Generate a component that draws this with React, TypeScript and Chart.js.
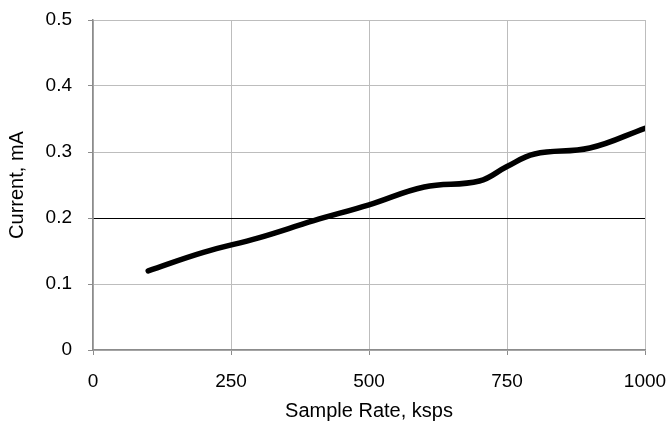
import React, { useEffect, useRef } from "react";
import { Chart, registerables } from "chart.js";

Chart.register(...registerables);

const sampleRates = [100, 200, 300, 400, 500, 600, 700, 750, 800, 900, 1000];
const currents = [0.12, 0.148, 0.17, 0.196, 0.22, 0.247, 0.256, 0.278, 0.297, 0.306, 0.336];
const xTicks = [0, 250, 500, 750, 1000];
const yTicks = [0, 0.1, 0.2, 0.3, 0.4, 0.5];

const FONT = "'Liberation Sans', Arial, sans-serif";

export default function App() {
  const ref = useRef<HTMLCanvasElement | null>(null);

  useEffect(() => {
    document.body.style.margin = "0";
    const canvas = ref.current;
    if (!canvas) return;
    const chart = new Chart(canvas, {
      type: "line",
      data: {
        datasets: [
          {
            data: sampleRates.map((x, i) => ({ x, y: currents[i] })),
            borderColor: "#000",
            borderWidth: 5.5,
            borderCapStyle: "round",
            borderJoinStyle: "round",
            pointRadius: 0,
            tension: 0.4,
            fill: false,
          },
        ],
      },
      options: {
        animation: false,
        responsive: false,
        maintainAspectRatio: false,
        layout: { padding: { top: 20, right: 25, left: 0, bottom: 0 } },
        plugins: { legend: { display: false }, tooltip: { enabled: false } },
        scales: {
          x: {
            type: "linear",
            min: 0,
            max: 1000,
            afterBuildTicks: (s: any) => {
              s.ticks = xTicks.map((v) => ({ value: v }));
            },
            afterFit: (s: any) => {
              s.height = 72;
              s.paddingLeft = 0;
              s.paddingRight = 0;
              s.paddingTop = 0;
              s.paddingBottom = 0;
            },
            grid: {
              color: "#bdbdbd",
              lineWidth: 1,
              tickLength: 5,
              tickColor: "#8c8c8c",
            },
            border: { color: "#8c8c8c", width: 1.5 },
            ticks: {
              color: "#000",
              font: { family: FONT, size: 19 },
              padding: 15,
              maxRotation: 0,
              callback: (v: any) => String(v),
            },
            title: {
              display: true,
              text: "Sample Rate, ksps",
              color: "#000",
              font: { family: FONT, size: 20, lineHeight: 1 },
              padding: { top: 0, bottom: 1 },
            },
          },
          y: {
            type: "linear",
            min: 0,
            max: 0.5,
            afterBuildTicks: (s: any) => {
              s.ticks = yTicks.map((v) => ({ value: v }));
            },
            afterFit: (s: any) => {
              s.width = 93;
              s.paddingLeft = 0;
              s.paddingRight = 0;
              s.paddingTop = 0;
              s.paddingBottom = 0;
            },
            grid: {
              color: (c: any) =>
                c.tick && Math.abs(c.tick.value - 0.2) < 1e-6 ? "#000" : "#bdbdbd",
              lineWidth: 1,
              tickLength: 5,
              tickColor: "#8c8c8c",
            },
            border: { color: "#8c8c8c", width: 1.5 },
            ticks: {
              color: "#000",
              font: { family: FONT, size: 19 },
              padding: 16,
              callback: (v: any) => (v === 0 ? "0" : Number(v).toFixed(1)),
            },
            title: {
              display: true,
              text: "Current, mA",
              color: "#000",
              font: { family: FONT, size: 20, lineHeight: 1 },
              padding: { top: 7, bottom: 0 },
            },
          },
        },
      },
    });
    return () => chart.destroy();
  }, []);

  return (
    <div style={{ width: 670, height: 422, background: "#fff" }}>
      <canvas ref={ref} width={670} height={422} style={{ display: "block" }} />
    </div>
  );
}
